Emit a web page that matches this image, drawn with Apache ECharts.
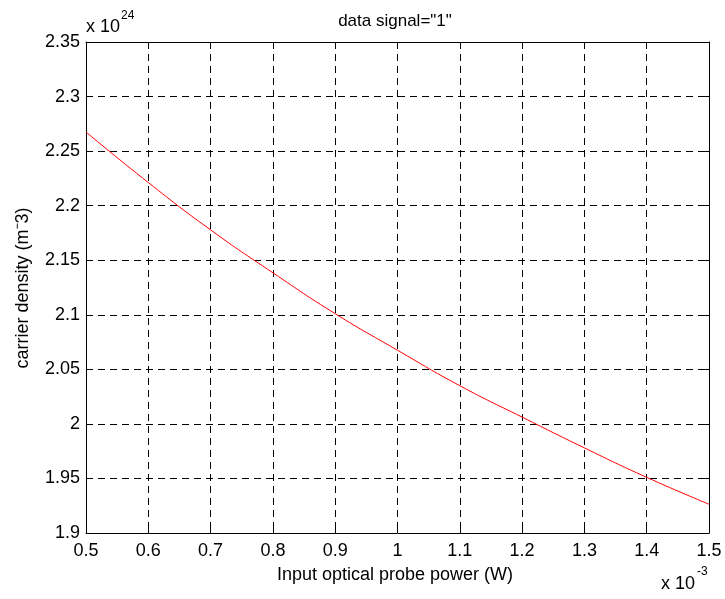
<!DOCTYPE html>
<html><head><meta charset="utf-8">
<script src="https://cdn.jsdelivr.net/npm/echarts@6/dist/echarts.min.js"></script>
<style>html,body{margin:0;padding:0;background:#fff}#c{width:725px;height:599px}</style>
</head><body><div id="c"></div>
<script>
// x in units of 1e-3 W, y in units of 1e24 m^-3
const powerValues = [0.5, 0.6, 0.7, 0.8, 0.9, 1.0, 1.1, 1.2, 1.3, 1.4, 1.5];
const densityValues = [2.2675, 2.2212, 2.1778, 2.1385, 2.1010, 2.0675, 2.0350, 2.0062, 1.9780, 1.9510, 1.9264];
const xTickLabels = ['0.5','0.6','0.7','0.8','0.9','1','1.1','1.2','1.3','1.4','1.5'];
const yTickLabels = ['1.9','1.95','2','2.05','2.1','2.15','2.2','2.25','2.3','2.35'];
const titleText = 'data signal="1"';
const xLabel = 'Input optical probe power (W)';
const yLabel = 'carrier density (m\u207B3)';

const FONT = 'Liberation Sans, Arial, sans-serif';
const chart = echarts.init(document.getElementById('c'), null, {renderer:'canvas'});
const gridLine = {show:true, lineStyle:{color:'#000', width:1, type:[7,5]}};
const axisLine = {show:true, onZero:false, lineStyle:{color:'#000', width:1}};
const tick = {show:true, inside:true, length:5, lineStyle:{color:'#000'}};
const xMap = v => { const i = Math.round((v - 0.5) / 0.1); return xTickLabels[i] ?? ''; };
const yMap = v => { const i = Math.round((v - 1.9) / 0.05); return yTickLabels[i] ?? ''; };
chart.setOption({
  animation:false,
  backgroundColor:'#fff',
  title:{text:titleText, left:395, top:13, textAlign:'center', padding:0,
    textStyle:{fontFamily:FONT, fontSize:17, fontWeight:'normal', color:'#000'}},
  grid:{left:86, right:16, top:42, bottom:66, containLabel:false},
  xAxis:[{type:'value', min:0.5, max:1.5, interval:0.1, position:'bottom',
    axisLine, axisTick:tick, splitLine:gridLine,
    axisLabel:{formatter:xMap, fontFamily:FONT, fontSize:18, color:'#000', margin:9}},
    {type:'value', min:0.5, max:1.5, interval:0.1, position:'top',
    axisLine, axisTick:tick, splitLine:{show:false}, axisLabel:{show:false}}],
  yAxis:[{type:'value', min:1.9, max:2.35, interval:0.05, position:'left',
    axisLine, axisTick:tick, splitLine:gridLine,
    axisLabel:{formatter:yMap, fontFamily:FONT, fontSize:18, color:'#000', margin:6}},
    {type:'value', min:1.9, max:2.35, interval:0.05, position:'right',
    axisLine, axisTick:tick, splitLine:{show:false}, axisLabel:{show:false}}],
  series:[{type:'line', xAxisIndex:0, yAxisIndex:0, data:powerValues.map((x,i)=>[x, densityValues[i]]),
    smooth:0.5, showSymbol:false, symbol:'none', lineStyle:{color:'#ff0000', width:1}}],
  graphic:[
    {type:'text', position:[395,566], style:{text:xLabel, font:'18px '+FONT, fill:'#000', textAlign:'center'}},
    {type:'text', position:[23,288], rotation:Math.PI/2, style:{text:yLabel, font:'18px '+FONT, fill:'#000', textAlign:'center', textVerticalAlign:'middle'}},
    {type:'text', position:[86,27], style:{text:'x 10', font:'18px '+FONT, fill:'#000', textVerticalAlign:'middle'}},
    {type:'text', position:[121,16], style:{text:'24', font:'12px '+FONT, fill:'#000', textVerticalAlign:'middle'}},
    {type:'text', position:[661,584], style:{text:'x 10', font:'18px '+FONT, fill:'#000', textVerticalAlign:'middle'}},
    {type:'text', position:[697,572], style:{text:'-3', font:'12px '+FONT, fill:'#000', textVerticalAlign:'middle'}}
  ]
});
</script></body></html>
